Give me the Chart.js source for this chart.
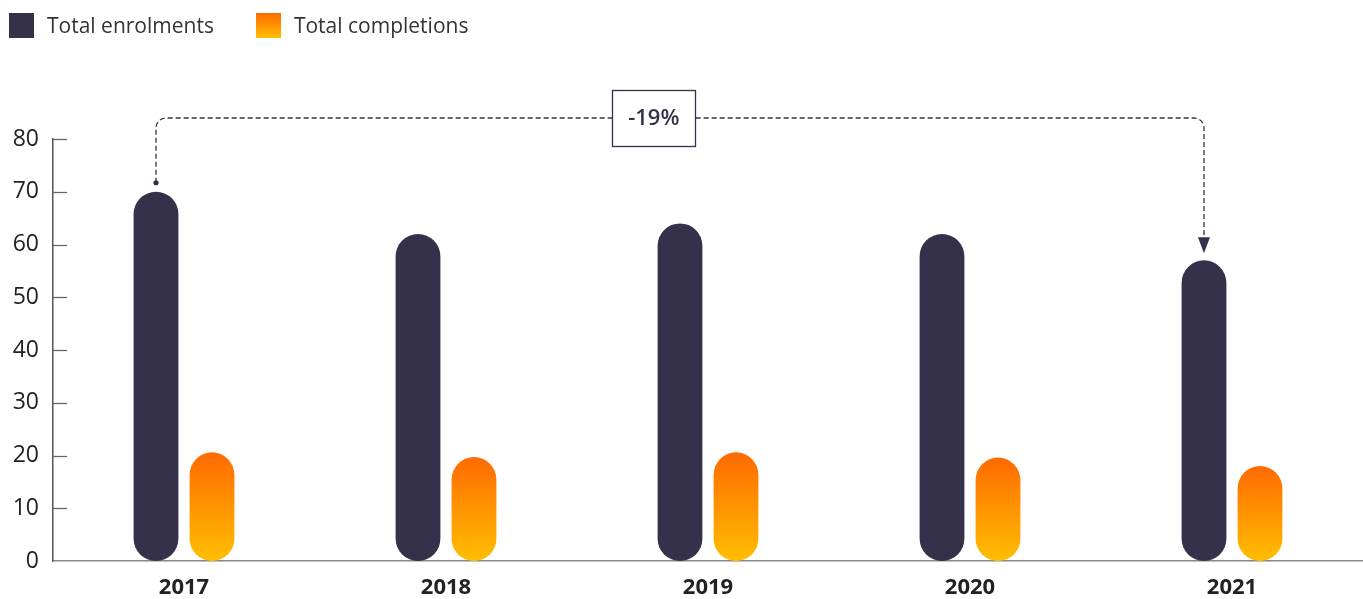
<!DOCTYPE html>
<html>
<head>
<meta charset="utf-8">
<script src="https://cdn.jsdelivr.net/npm/chart.js@4.4.1/dist/chart.umd.min.js"></script>
<style>
  html, body { margin: 0; padding: 0; background: #fff; }
  #wrap { position: relative; width: 1363px; height: 599px; }
  #legend { position: absolute; left: 9px; top: 11px; display: flex; font-family: "Open Sans", sans-serif; font-size: 21px; color: #333; }
  .item { display: flex; align-items: center; margin-right: 42px; }
  .box { width: 25px; height: 25px; margin-right: 13px; }
</style>
</head>
<body>
<div id="wrap">
  <canvas id="chart" width="1363" height="599"></canvas>
  <div id="legend">
    <div class="item"><span class="box" style="background:#35314a"></span>Total enrolments</div>
    <div class="item"><span class="box" style="background:linear-gradient(#ff6a00,#ffbe00)"></span>Total completions</div>
  </div>
</div>
<script>
const years = ["2017", "2018", "2019", "2020", "2021"];
const enrolments = [70, 62, 64, 62, 57];
const completions = [20.6, 19.7, 20.6, 19.6, 18.0];
const yTicks = [0, 10, 20, 30, 40, 50, 60, 70, 80];
const changeLabel = "-19%";

const dark = "#35314a";
const font = "'Open Sans', sans-serif";

// each completion bar gets its own top-to-bottom gradient
function orangeFill(ctx) {
  const chart = ctx.chart;
  const y = chart.scales.y;
  if (!y || ctx.parsed == null || !chart.chartArea) return "#ff8c00";
  const top = y.getPixelForValue(ctx.parsed.y);
  const bottom = y.getPixelForValue(0);
  if (!isFinite(top) || !isFinite(bottom) || top === bottom) return "#ff8c00";
  const g = chart.ctx.createLinearGradient(0, top, 0, bottom);
  g.addColorStop(0, "#ff6a00");
  g.addColorStop(1, "#ffbe00");
  return g;
}

const axisExtras = {
  id: "axisExtras",
  afterDraw(chart) {
    const { ctx, chartArea, scales } = chart;
    ctx.save();
    // inward tick marks on the y axis
    ctx.strokeStyle = "#666";
    ctx.lineWidth = 1.3;
    for (const v of yTicks) {
      if (v === 0) continue;
      const py = Math.round(scales.y.getPixelForValue(v)) + 0.5;
      ctx.beginPath();
      ctx.moveTo(chartArea.left, py);
      ctx.lineTo(chartArea.left + 14, py);
      ctx.stroke();
    }
    ctx.restore();
  },
};

const changeArrow = {
  id: "changeArrow",
  afterDatasetsDraw(chart) {
    const { ctx, chartArea } = chart;
    const bars = chart.getDatasetMeta(0).data;
    const a = bars[0], b = bars[bars.length - 1];
    const xa = a.x, xb = b.x;
    const yLine = chartArea.top - 21;
    const r = 10;
    const tip = b.y - 7;
    const startY = a.y - 9;

    ctx.save();
    ctx.strokeStyle = dark;
    ctx.fillStyle = dark;
    ctx.lineWidth = 1.3;
    ctx.setLineDash([5, 3]);
    ctx.beginPath();
    ctx.moveTo(xa, startY);
    ctx.lineTo(xa, yLine + r);
    ctx.arcTo(xa, yLine, xa + r, yLine, r);
    ctx.lineTo(xb - r, yLine);
    ctx.arcTo(xb, yLine, xb, yLine + r, r);
    ctx.lineTo(xb, tip - 14);
    ctx.stroke();
    ctx.setLineDash([]);

    ctx.beginPath();
    ctx.arc(xa, startY, 2.6, 0, Math.PI * 2);
    ctx.fill();

    ctx.beginPath();
    ctx.moveTo(xb - 6, tip - 16);
    ctx.lineTo(xb + 6, tip - 16);
    ctx.lineTo(xb, tip);
    ctx.closePath();
    ctx.fill();

    // label box
    const cx = xa + (xb - xa) * 0.475;
    const w = 83, h = 56;
    const bx = Math.round(cx - w / 2) + 0.5, by = Math.round(yLine - h / 2) + 0.5;
    ctx.fillStyle = "#fff";
    ctx.fillRect(bx, by, w, h);
    ctx.strokeRect(bx, by, w, h);
    ctx.fillStyle = dark;
    ctx.font = "600 22px " + font;
    ctx.textAlign = "center";
    ctx.textBaseline = "middle";
    ctx.fillText(changeLabel, cx, yLine + 1);
    ctx.restore();
  },
};

new Chart(document.getElementById("chart"), {
  type: "bar",
  data: {
    labels: years,
    datasets: [
      { label: "Total enrolments", data: enrolments, backgroundColor: dark },
      { label: "Total completions", data: completions, backgroundColor: orangeFill },
    ],
  },
  options: {
    responsive: false,
    animation: false,
    events: [],
    layout: { padding: { top: 139, left: 12, right: -3, bottom: 0 } },
    datasets: {
      bar: {
        categoryPercentage: 0.4275,
        barPercentage: 0.8,
        borderRadius: 30,
        borderSkipped: false,
      },
    },
    plugins: { legend: { display: false }, tooltip: { enabled: false } },
    scales: {
      x: {
        afterFit(scale) { scale.height = 38; },
        grid: { display: false, drawTicks: false },
        border: { display: true, color: "#888", width: 1.5 },
        ticks: { color: "#222", padding: 14, font: { family: font, size: 22, weight: "bold" } },
      },
      y: {
        min: 0,
        max: 80,
        afterBuildTicks(scale) { scale.ticks = yTicks.map((v) => ({ value: v })); },
        afterFit(scale) { scale.width = 41; },
        grid: { display: false, drawTicks: false },
        border: { display: true, color: "#555", width: 1.5 },
        ticks: { color: "#222", padding: 14, font: { family: font, size: 23 } },
      },
    },
  },
  plugins: [axisExtras, changeArrow],
});
</script>
</body>
</html>
